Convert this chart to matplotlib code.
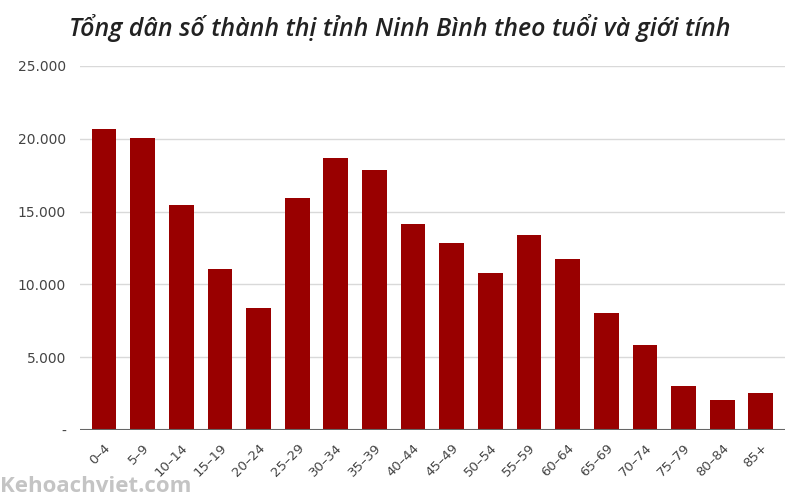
import matplotlib.pyplot as plt
from matplotlib.ticker import FuncFormatter

### Data ###
age_groups = ['0–4', '5–9', '10–14', '15–19', '20–24', '25–29', '30–34', '35–39',
              '40–44', '45–49', '50–54', '55–59', '60–64', '65–69', '70–74',
              '75–79', '80–84', '85+']
population = [20700, 20050, 15480, 11050, 8400, 15960, 18700, 17860,
              14170, 12850, 10780, 13420, 11720, 8070, 5830, 2990, 2040, 2530]
y_ticks = [0, 5000, 10000, 15000, 20000, 25000]

BAR_COLOR = '#990000'
TEXT_COLOR = '#444444'

### Plot ###
fig = plt.figure(figsize=(8, 5), dpi=100)
ax = fig.add_axes([0.1, 0.14, 0.881, 0.728])

x = list(range(len(age_groups)))
ax.bar(x, population, width=0.64, color=BAR_COLOR, zorder=2)

ax.set_xlim(-0.62, len(age_groups) - 1 + 0.62)
ax.set_ylim(0, 25000)
ax.set_yticks(y_ticks)

def fmt(v, pos):
    if v == 0:
        return '-'
    return f'{int(v):,}'.replace(',', '.')

ax.yaxis.set_major_formatter(FuncFormatter(fmt))
ax.grid(axis='y', color='#d9d9d9', linewidth=1, zorder=0)
ax.axhline(0, color='#666666', linewidth=1.5, zorder=3)

for s in ax.spines.values():
    s.set_visible(False)

ax.tick_params(axis='y', length=0, pad=10, labelsize=10, labelcolor=TEXT_COLOR)
ax.tick_params(axis='x', length=0, pad=8, labelsize=9.5, labelcolor=TEXT_COLOR)
ax.set_xticks(x)
ax.set_xticklabels(age_groups, rotation=45, ha='right', rotation_mode='anchor')

fig.text(0.5, 0.945, 'Tổng dân số thành thị tỉnh Ninh Bình theo tuổi và giới tính',
         ha='center', va='center', fontsize=18, style='italic', fontweight='semibold',
         color='#222222', family='Open Sans')

fig.text(0.0, 0.028, 'Kehoachviet.com', ha='left', va='center', fontsize=16,
         fontweight='bold', color='#c4c4c4', family='Open Sans')

fig.savefig('out.png', dpi=100)
